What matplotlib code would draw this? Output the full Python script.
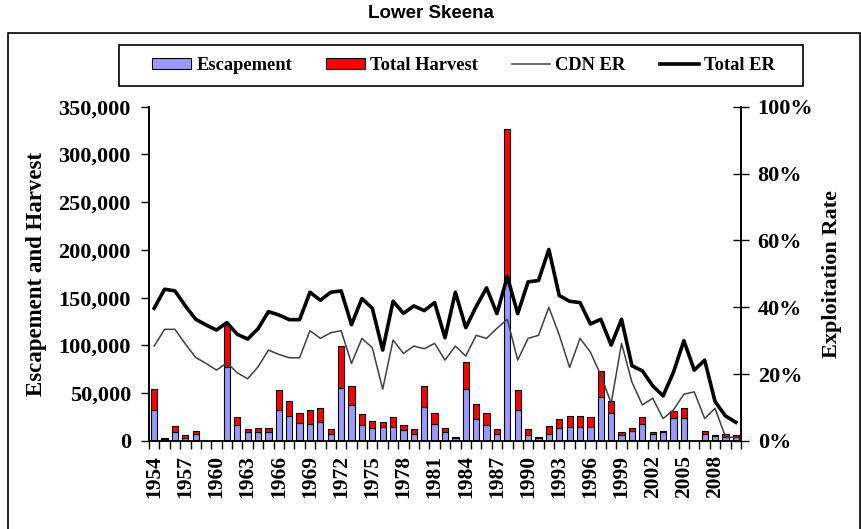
import numpy as np
import matplotlib
matplotlib.use("Agg")
import matplotlib.pyplot as plt
from matplotlib.patches import Rectangle, Patch
from matplotlib.lines import Line2D
from matplotlib.ticker import FuncFormatter, MultipleLocator

##################################################
# Lower Skeena data
years = list(range(1954, 2011))

escapement = [32500, 2500, 9100, 2800, 7000, 0, 0, 77800, 16800, 9100,
              9100, 9100, 32500, 26200, 18500, 18100, 19900, 7000, 55800, 37300,
              16800, 13300, 15000, 15000, 11200, 7000, 35200, 18100, 9100, 2800,
              54100, 22700, 16800, 7000, 168000, 32500, 5900, 2800, 7000, 13300,
              15000, 15000, 15000, 46400, 29300, 5900, 10800, 18100, 7300, 9100,
              24100, 24400, 0, 7700, 5200, 4500, 4500]

total_harvest = [21500, 300, 6600, 3100, 3800, 0, 0, 43700, 8000, 3100,
                 4900, 4900, 20500, 15700, 10800, 14400, 14300, 5200, 44000, 20300,
                 11100, 8000, 4500, 9800, 5900, 5200, 22400, 11600, 4900, 1700,
                 28300, 16000, 12900, 5200, 158700, 20500, 6300, 1700, 8700, 10100,
                 11200, 11200, 9800, 26900, 12900, 3200, 3200, 6700, 1800, 1400,
                 7000, 9800, 0, 2800, 700, 3200, 1400]

cdn_er = [28.4, 33.4, 33.4, 29.0, 25.0, 23.2, 21.2, 23.4, 20.4, 18.6,
          22.2, 27.2, 25.9, 24.9, 24.9, 33.0, 30.7, 32.4, 33.0, 23.2,
          30.7, 27.9, 15.5, 30.2, 26.2, 28.4, 27.6, 29.2, 24.2, 28.4,
          25.4, 31.6, 30.7, 33.7, 36.4, 24.2, 30.7, 31.6, 40.0, 31.7,
          22.0, 30.7, 26.6, 19.7, 11.3, 29.2, 17.6, 10.8, 12.8, 6.7,
          9.3, 14.0, 14.7, 6.7, 9.8, 1.3, 1.0]

total_er = [39.7, 45.4, 44.9, 40.4, 36.4, 34.7, 33.2, 35.4, 31.9, 30.5,
            33.6, 38.7, 37.7, 36.3, 36.3, 44.5, 42.1, 44.5, 44.9, 34.8,
            42.6, 39.7, 27.2, 41.8, 38.2, 40.4, 39.0, 41.4, 30.9, 44.5,
            33.9, 40.2, 45.8, 38.1, 49.2, 38.1, 47.6, 48.0, 57.3, 43.5,
            41.8, 41.4, 35.0, 36.4, 28.7, 36.4, 22.5, 21.0, 16.5, 13.5,
            20.6, 30.0, 21.2, 24.2, 11.8, 7.5, 5.6]

W, H = 862, 529
serif = "Liberation Serif"

fig = plt.figure(figsize=(W / 100, H / 100), dpi=100)
ax = fig.add_axes([149 / W, 1 - 441 / H, (741 - 149) / W, (441 - 106.7) / H])
ax2 = ax.twinx()

x = np.arange(len(years))
esc = np.array(escapement)
harv = np.array(total_harvest)

ax.bar(x, esc, width=0.6, color="#9999FF", edgecolor="black", linewidth=0.8, zorder=2)
ax.bar(x, harv, width=0.6, bottom=esc, color="#FF0000", edgecolor="black", linewidth=0.8, zorder=2)

ax2.plot(x, np.array(cdn_er) / 100, color="#404040", linewidth=1.1)
ax2.plot(x, np.array(total_er) / 100, color="black", linewidth=2.6)

ax.set_xlim(-0.5, len(years) - 0.5)
ax.set_ylim(0, 350000)
ax2.set_ylim(0, 1.0)

ax.yaxis.set_major_locator(MultipleLocator(50000))
ax.yaxis.set_major_formatter(FuncFormatter(lambda v, p: f"{int(v):,}"))
ax2.yaxis.set_major_locator(MultipleLocator(0.2))
ax2.yaxis.set_major_formatter(FuncFormatter(lambda v, p: f"{v * 100:.0f}%"))

# ticks between categories, labels every 3 years
ax.set_xticks(np.arange(-0.5, len(years), 1.0), minor=False)
ax.set_xticklabels([])
ax.set_xticks(x[::3], minor=True)
ax.set_xticklabels([str(y) for y in years[::3]], minor=True, rotation=90,
                   fontfamily=serif, fontweight="bold", fontsize=15.5)
ax.tick_params(axis="x", which="major", direction="out", length=6, width=1)
ax.tick_params(axis="x", which="minor", length=0, pad=10)

ax.tick_params(axis="y", direction="out", length=6, width=1, pad=7)
ax2.tick_params(axis="y", direction="inout", length=12, width=1, pad=6)
for lab in ax.get_yticklabels() + ax2.get_yticklabels():
    lab.set_fontfamily(serif)
    lab.set_fontweight("bold")
    lab.set_fontsize(16)

for a in (ax, ax2):
    a.spines["top"].set_visible(False)
    for s in ("left", "right", "bottom"):
        a.spines[s].set_linewidth(1.2)

ax.set_ylabel("Escapement and Harvest", fontfamily=serif, fontweight="bold", fontsize=16.5, labelpad=8)
ax2.set_ylabel("Exploitation Rate", fontfamily=serif, fontweight="bold", fontsize=16, labelpad=6)

fig.text(0.5, 1 - 13 / H, "Lower Skeena", ha="center", va="center",
         fontfamily="Liberation Sans", fontweight="bold", fontsize=13.5)

# outer chart border
fig.add_artist(Rectangle((8 / W, -0.1), (860 - 8) / W, 1 - 33 / H + 0.1, fill=False,
                         transform=fig.transFigure, linewidth=1.2, edgecolor="black"))

# legend box drawn separately so entries sit centred with side margins
fig.add_artist(Rectangle((119 / W, 1 - 86 / H), (803 - 119) / W, 41 / H, fill=False,
                         transform=fig.transFigure, linewidth=1.2, edgecolor="black"))

handles = [
    Patch(facecolor="#9999FF", edgecolor="black", linewidth=0.8),
    Patch(facecolor="#FF0000", edgecolor="black", linewidth=0.8),
    Line2D([], [], color="#404040", linewidth=1.1),
    Line2D([], [], color="black", linewidth=2.6),
]
labels = ["Escapement", "Total Harvest", "CDN ER", "Total ER"]
leg = fig.legend(handles, labels, loc="center", ncol=4,
                 bbox_to_anchor=(463.5 / W, 1 - 65.5 / H),
                 prop={"family": serif, "weight": "bold", "size": 13.3},
                 frameon=False, handlelength=2.1, handleheight=0.6,
                 handletextpad=0.27, columnspacing=1.84, borderpad=0.0)

plt.savefig("out.png", dpi=100)
